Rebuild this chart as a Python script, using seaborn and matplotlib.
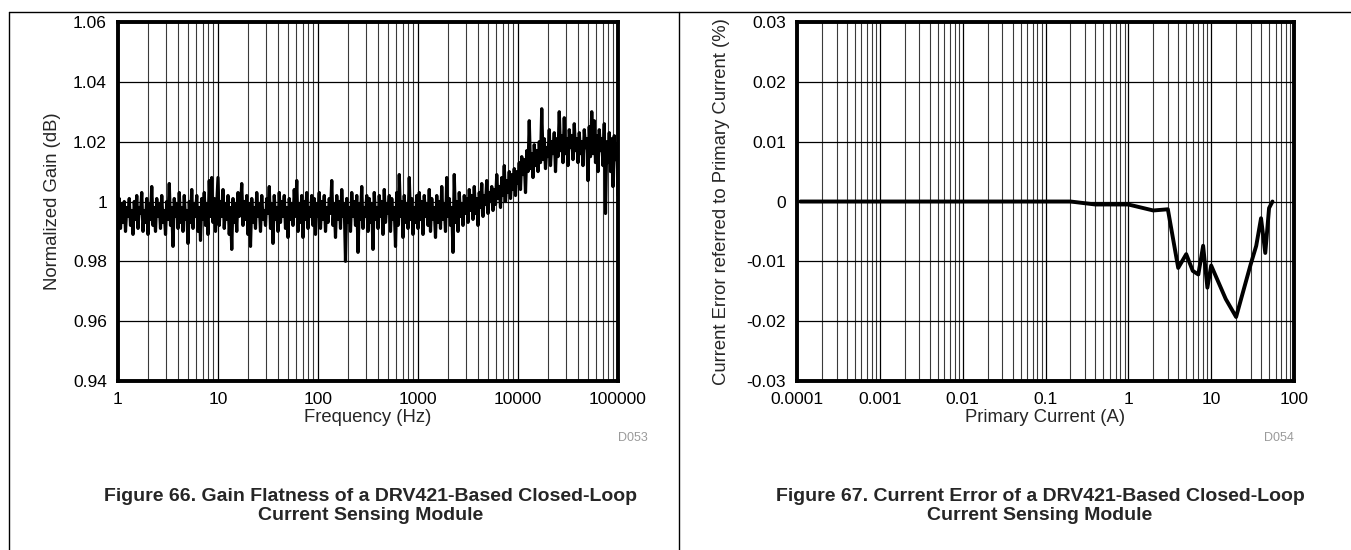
import numpy as np
import pandas as pd
import matplotlib
matplotlib.use("Agg")
import matplotlib.pyplot as plt
import seaborn as sns
from matplotlib.lines import Line2D
from matplotlib.ticker import FixedLocator, NullFormatter

# Figure 66 - gain flatness, swept 1 Hz .. 100 kHz (80 readings per decade)
gain = [
    # 1 - 10 Hz
    0.996, 1.001, 0.991, 0.999, 0.993, 1.000, 0.990, 0.998, 0.995, 1.001,
    0.992, 0.997, 0.989, 1.000, 0.994, 1.002, 0.991, 0.998, 0.996, 1.003,
    0.990, 0.997, 0.993, 1.001, 0.989, 0.999, 0.994, 1.005, 0.992, 0.998,
    0.990, 1.001, 0.995, 0.999, 0.991, 1.002, 0.993, 0.997, 0.989, 1.000,
    0.994, 1.006, 0.992, 0.998, 0.985, 1.001, 0.995, 0.999, 0.991, 1.003,
    0.993, 0.998, 0.990, 1.002, 0.994, 0.997, 0.986, 1.000, 0.993, 1.004,
    0.991, 0.999, 0.995, 1.002, 0.990, 0.998, 0.987, 1.001, 0.994, 1.003,
    0.992, 0.999, 0.989, 1.007, 0.995, 1.008, 0.993, 1.001, 0.990, 0.999,
    # 10 - 100 Hz
    1.008, 0.992, 1.000, 0.995, 1.004, 0.991, 0.999, 0.994, 1.002, 0.989,
    0.998, 0.984, 1.001, 0.993, 0.999, 0.990, 1.003, 0.995, 0.998, 1.006,
    0.992, 1.000, 0.994, 1.002, 0.989, 0.999, 0.985, 1.001, 0.993, 0.998,
    0.991, 1.003, 0.995, 0.999, 0.990, 1.002, 0.994, 0.997, 0.992, 1.001,
    0.996, 1.005, 0.991, 0.999, 0.986, 1.002, 0.994, 0.998, 0.990, 1.003,
    0.993, 1.000, 0.995, 1.002, 0.991, 0.998, 0.988, 1.001, 0.994, 0.999,
    0.992, 1.004, 0.995, 1.007, 0.990, 0.999, 0.993, 1.002, 0.988, 1.000,
    0.994, 1.003, 0.991, 0.998, 0.995, 1.002, 0.992, 1.001, 0.989, 0.999,
    # 100 - 1000 Hz
    0.995, 1.003, 0.991, 1.000, 0.994, 1.002, 0.990, 0.998, 0.993, 1.001,
    0.996, 1.007, 0.992, 0.999, 0.988, 1.002, 0.994, 1.000, 0.991, 1.004,
    0.995, 0.999, 0.980, 1.001, 0.993, 0.998, 0.990, 1.003, 0.995, 1.000,
    0.992, 1.002, 0.983, 0.999, 0.994, 1.005, 0.991, 0.998, 0.995, 1.002,
    0.990, 1.001, 0.993, 0.999, 0.984, 1.003, 0.994, 0.998, 0.991, 1.002,
    0.995, 1.000, 0.989, 1.004, 0.993, 0.999, 0.996, 1.002, 0.990, 1.001,
    0.994, 0.998, 0.985, 1.003, 0.992, 1.009, 0.995, 1.000, 0.988, 1.002,
    0.993, 0.999, 0.991, 1.008, 0.994, 1.001, 0.989, 0.998, 0.993, 1.002,
    # 1 - 10 kHz
    0.991, 1.003, 0.994, 1.000, 0.989, 1.002, 0.995, 0.999, 0.992, 1.004,
    0.990, 1.001, 0.994, 0.998, 0.988, 1.002, 0.993, 1.000, 0.991, 1.005,
    0.994, 0.999, 0.990, 1.008, 0.995, 1.001, 0.992, 0.998, 0.983, 1.009,
    0.993, 1.000, 0.990, 1.003, 0.995, 0.999, 0.992, 1.002, 0.996, 1.001,
    0.993, 1.004, 0.997, 1.002, 0.994, 1.005, 0.996, 1.001, 0.992, 1.003,
    0.998, 1.006, 0.995, 1.002, 0.999, 1.007, 0.996, 1.003, 1.000, 1.005,
    0.997, 1.004, 0.999, 1.009, 1.001, 1.005, 0.998, 1.008, 1.002, 1.012,
    1.000, 1.007, 1.003, 1.010, 1.001, 1.009, 1.004, 1.011, 1.002, 1.010,
    # 10 - 100 kHz
    1.006, 1.013, 1.004, 1.015, 1.009, 1.014, 1.003, 1.017, 1.010, 1.027,
    1.011, 1.016, 1.008, 1.019, 1.012, 1.017, 1.010, 1.020, 1.013, 1.031,
    1.014, 1.021, 1.011, 1.018, 1.015, 1.024, 1.012, 1.020, 1.016, 1.023,
    1.010, 1.021, 1.015, 1.030, 1.017, 1.022, 1.013, 1.028, 1.016, 1.021,
    1.012, 1.024, 1.018, 1.022, 1.014, 1.026, 1.017, 1.021, 1.013, 1.023,
    1.016, 1.020, 1.012, 1.024, 1.018, 1.021, 1.007, 1.025, 1.015, 1.030,
    1.016, 1.027, 1.013, 1.022, 1.010, 1.024, 1.017, 1.021, 1.012, 1.026,
    0.996, 1.020, 1.013, 1.023, 1.010, 1.021, 1.005, 1.022, 1.014, 1.019,
    1.002,
]
freq = np.logspace(0, 5, len(gain))

# Figure 67 - current error vs primary current
current = [0.00011, 0.001, 0.01, 0.1, 0.2, 0.4, 1.0, 2, 3, 4, 5, 6, 7, 8, 9,
           10, 15, 20, 30, 35, 40, 45, 50, 55]
error = [0.0, 0.0, 0.0, 0.0, 0.0, -0.0005, -0.0005, -0.0015, -0.0013, -0.0111,
         -0.0088, -0.0116, -0.0122, -0.0074, -0.0144, -0.0107, -0.0163, -0.0193,
         -0.0105, -0.0074, -0.0028, -0.0086, -0.0011, 0.0]

gain_ticks = [0.94, 0.96, 0.98, 1.00, 1.02, 1.04, 1.06]
gain_ticklabels = ["0.94", "0.96", "0.98", "1", "1.02", "1.04", "1.06"]
freq_ticks = [1, 10, 100, 1000, 10000, 100000]
freq_ticklabels = ["1", "10", "100", "1000", "10000", "100000"]
err_ticks = [-0.03, -0.02, -0.01, 0.0, 0.01, 0.02, 0.03]
err_ticklabels = ["-0.03", "-0.02", "-0.01", "0", "0.01", "0.02", "0.03"]
cur_ticks = [0.0001, 0.001, 0.01, 0.1, 1, 10, 100]
cur_ticklabels = ["0.0001", "0.001", "0.01", "0.1", "1", "10", "100"]

sns.set_style("white")
plt.rcParams["font.family"] = ["Liberation Sans", "DejaVu Sans"]

W, H = 1351, 550
fig = plt.figure(figsize=(W / 100, H / 100), dpi=100)
ax1 = fig.add_axes([118 / W, (H - 381) / H, 500 / W, 359 / H])
ax2 = fig.add_axes([797 / W, (H - 381) / H, 497 / W, 359 / H])

df1 = pd.DataFrame({"Frequency": freq, "Gain": gain})
df2 = pd.DataFrame({"Current": current, "Error": error})
sns.lineplot(data=df1, x="Frequency", y="Gain", ax=ax1, color="black",
             linewidth=2.3, estimator=None, sort=False)
sns.lineplot(data=df2, x="Current", y="Error", ax=ax2, color="black",
             linewidth=2.8, estimator=None, sort=False)


def style_axis(ax, xticks, xlabels, yticks, ylabels, xlim, ylim, xlabel, ylabel, ypad):
    ax.set_xscale("log")
    ax.set_xlim(*xlim)
    ax.set_ylim(*ylim)
    ax.xaxis.set_major_locator(FixedLocator(xticks))
    ax.set_xticklabels(xlabels)
    minors = [m * t for t in xticks[:-1] for m in range(2, 10)]
    ax.xaxis.set_minor_locator(FixedLocator(minors))
    ax.xaxis.set_minor_formatter(NullFormatter())
    ax.set_yticks(yticks)
    ax.set_yticklabels(ylabels)
    ax.grid(which="major", axis="both", color="black", linewidth=0.9)
    ax.grid(which="minor", axis="x", color="#3a3a3a", linewidth=0.8)
    ax.tick_params(which="both", length=0, labelsize=12.5, pad=8, colors="black")
    for s in ax.spines.values():
        s.set_linewidth(2.8)
        s.set_color("black")
    ax.set_xlabel(xlabel, fontsize=13.3, labelpad=1)
    ax.set_ylabel(ylabel, fontsize=13.3, labelpad=ypad)


style_axis(ax1, freq_ticks, freq_ticklabels, gain_ticks, gain_ticklabels,
           (1, 100000), (0.94, 1.06), "Frequency (Hz)", "Normalized Gain (dB)", 9)
style_axis(ax2, cur_ticks, cur_ticklabels, err_ticks, err_ticklabels,
           (0.0001, 100), (-0.03, 0.03), "Primary Current (A)",
           "Current Error referred to Primary Current (%)", 12)

# grey figure ids
fig.text(648 / W, 1 - 438 / H, "D053", color="#9a9a9a", fontsize=9, ha="right", va="center")
fig.text(1294 / W, 1 - 438 / H, "D054", color="#9a9a9a", fontsize=9, ha="right", va="center")

# captions
fig.text(371 / W, 1 - 506 / H,
         "Figure 66. Gain Flatness of a DRV421-Based Closed-Loop\nCurrent Sensing Module",
         fontsize=14, fontweight="bold", ha="center", va="center", linespacing=1.1)
fig.text(1040 / W, 1 - 506 / H,
         "Figure 67. Current Error of a DRV421-Based Closed-Loop\nCurrent Sensing Module",
         fontsize=14, fontweight="bold", ha="center", va="center", linespacing=1.1)

# table frame lines
fig.add_artist(Line2D([9 / W, 1], [1 - 12 / H, 1 - 12 / H], color="black", lw=1))
fig.add_artist(Line2D([9 / W, 9 / W], [0, 1 - 12 / H], color="black", lw=1))
fig.add_artist(Line2D([679 / W, 679 / W], [0, 1 - 12 / H], color="black", lw=1))

fig.savefig("out.png", dpi=100)
